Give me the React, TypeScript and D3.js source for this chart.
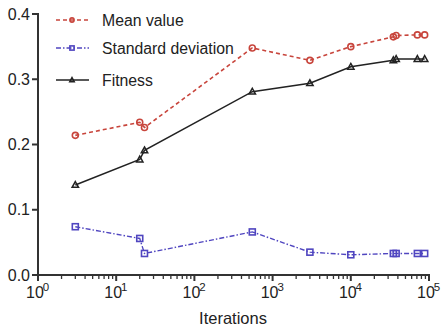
import React from "react";
import * as d3 from "d3";

const iterations = [3, 20, 23, 550, 3000, 10000, 35000, 38000, 71000, 88000];
const meanValue = [0.214, 0.234, 0.226, 0.348, 0.329, 0.35, 0.365, 0.367, 0.368, 0.368];
const stdDev = [0.074, 0.056, 0.033, 0.066, 0.035, 0.031, 0.033, 0.033, 0.033, 0.033];
const fitness = [0.138, 0.177, 0.191, 0.281, 0.294, 0.319, 0.329, 0.331, 0.331, 0.331];
const yTicks = [0, 0.1, 0.2, 0.3, 0.4];
const xExponents = [0, 1, 2, 3, 4, 5];
const legendLabels = ["Mean value", "Standard deviation", "Fitness"];

const W = 443;
const H = 335;
const margin = { left: 38, right: 14, top: 14, bottom: 60 };
const FONT = "'Liberation Sans', Arial, sans-serif";
const RED = "#c8453c";
const BLUE = "#5046c0";
const BLACK = "#222";
const AXIS = "#333";

type Marker = (cx: number, cy: number, key: string, s?: number) => React.ReactElement;

export default function App() {
  const x = d3.scaleLog().domain([1, 1e5]).range([margin.left, W - margin.right]);
  const y = d3.scaleLinear().domain([0, 0.4]).range([H - margin.bottom, margin.top]);

  const line = (vals: number[]) =>
    d3.line<number>().x((_, i) => x(iterations[i])).y((v) => y(v))(vals) || "";

  const minorTicks: number[] = [];
  for (let e = 0; e < 5; e++) {
    for (let k = 2; k <= 9; k++) minorTicks.push(k * Math.pow(10, e));
  }

  const y0 = y(0);
  const circle: Marker = (cx, cy, key, s = 1) => (
    <circle key={key} cx={cx} cy={cy} r={3 * s} fill="none" stroke={RED} strokeWidth={1.6} />
  );
  const square: Marker = (cx, cy, key, s = 1) => (
    <rect key={key} x={cx - 3 * s} y={cy - 3 * s} width={6 * s} height={6 * s} fill="none" stroke={BLUE} strokeWidth={1.6} />
  );
  const tri: Marker = (cx, cy, key, s = 1) => (
    <path
      key={key}
      d={`M${cx},${cy - 3.4 * s}L${cx + 3.2 * s},${cy + 2.4 * s}L${cx - 3.2 * s},${cy + 2.4 * s}Z`}
      fill="none"
      stroke={BLACK}
      strokeWidth={1.5}
    />
  );

  const series = [
    { vals: meanValue, color: RED, dash: "4,3", marker: circle, lw: 1.6 },
    { vals: stdDev, color: BLUE, dash: "5,2,1.5,2", marker: square, lw: 1.4 },
    { vals: fitness, color: BLACK, dash: "", marker: tri, lw: 1.5 },
  ];

  const legendY = [20, 48, 80];

  return (
    <svg width={W} height={H} style={{ position: "absolute", left: 0, top: 0, background: "#fff" }} fontFamily={FONT}>
      {/* axes */}
      <line x1={margin.left} x2={margin.left} y1={y(0.4) - 1} y2={y0 + 1} stroke={AXIS} strokeWidth={2} />
      <line x1={margin.left - 1} x2={W - margin.right + 1} y1={y0} y2={y0} stroke={AXIS} strokeWidth={2} />
      {yTicks.map((t) => (
        <g key={t}>
          <line x1={margin.left - 6} x2={margin.left} y1={y(t)} y2={y(t)} stroke={AXIS} strokeWidth={2} />
          <text x={margin.left - 8} y={y(t) + 5.5} textAnchor="end" fontSize={16} fill="#222">
            {t.toFixed(1)}
          </text>
        </g>
      ))}
      {minorTicks.map((t) => (
        <line key={t} x1={x(t)} x2={x(t)} y1={y0} y2={y0 + 4} stroke={AXIS} strokeWidth={1.3} />
      ))}
      {xExponents.map((e) => {
        const px = x(Math.pow(10, e));
        return (
          <g key={e}>
            <line x1={px} x2={px} y1={y0} y2={y0 + 6} stroke={AXIS} strokeWidth={2} />
            <text x={px - 3} y={y0 + 23} textAnchor="middle" fontSize={16} fill="#222">
              10
            </text>
            <text x={px + 8} y={y0 + 16} textAnchor="middle" fontSize={11.5} fill="#222">
              {e}
            </text>
          </g>
        );
      })}
      <text x={233} y={H - 11} textAnchor="middle" fontSize={16.5} fill="#222">
        Iterations
      </text>

      {/* series */}
      {series.map((s, si) => (
        <g key={si}>
          <path d={line(s.vals)} fill="none" stroke={s.color} strokeWidth={s.lw} strokeDasharray={s.dash} />
          {s.vals.map((v, i) => s.marker(x(iterations[i]), y(v), `${si}-${i}`))}
        </g>
      ))}

      {/* legend */}
      {series.map((s, si) => (
        <g key={`lg${si}`}>
          <line x1={56} x2={89} y1={legendY[si]} y2={legendY[si]} stroke={s.color} strokeWidth={s.lw} strokeDasharray={s.dash} />
          {s.marker(72, legendY[si], `lm${si}`, 0.7)}
          <text x={102} y={legendY[si] + 5.5} fontSize={15.8} fill="#222">
            {legendLabels[si]}
          </text>
        </g>
      ))}
    </svg>
  );
}
